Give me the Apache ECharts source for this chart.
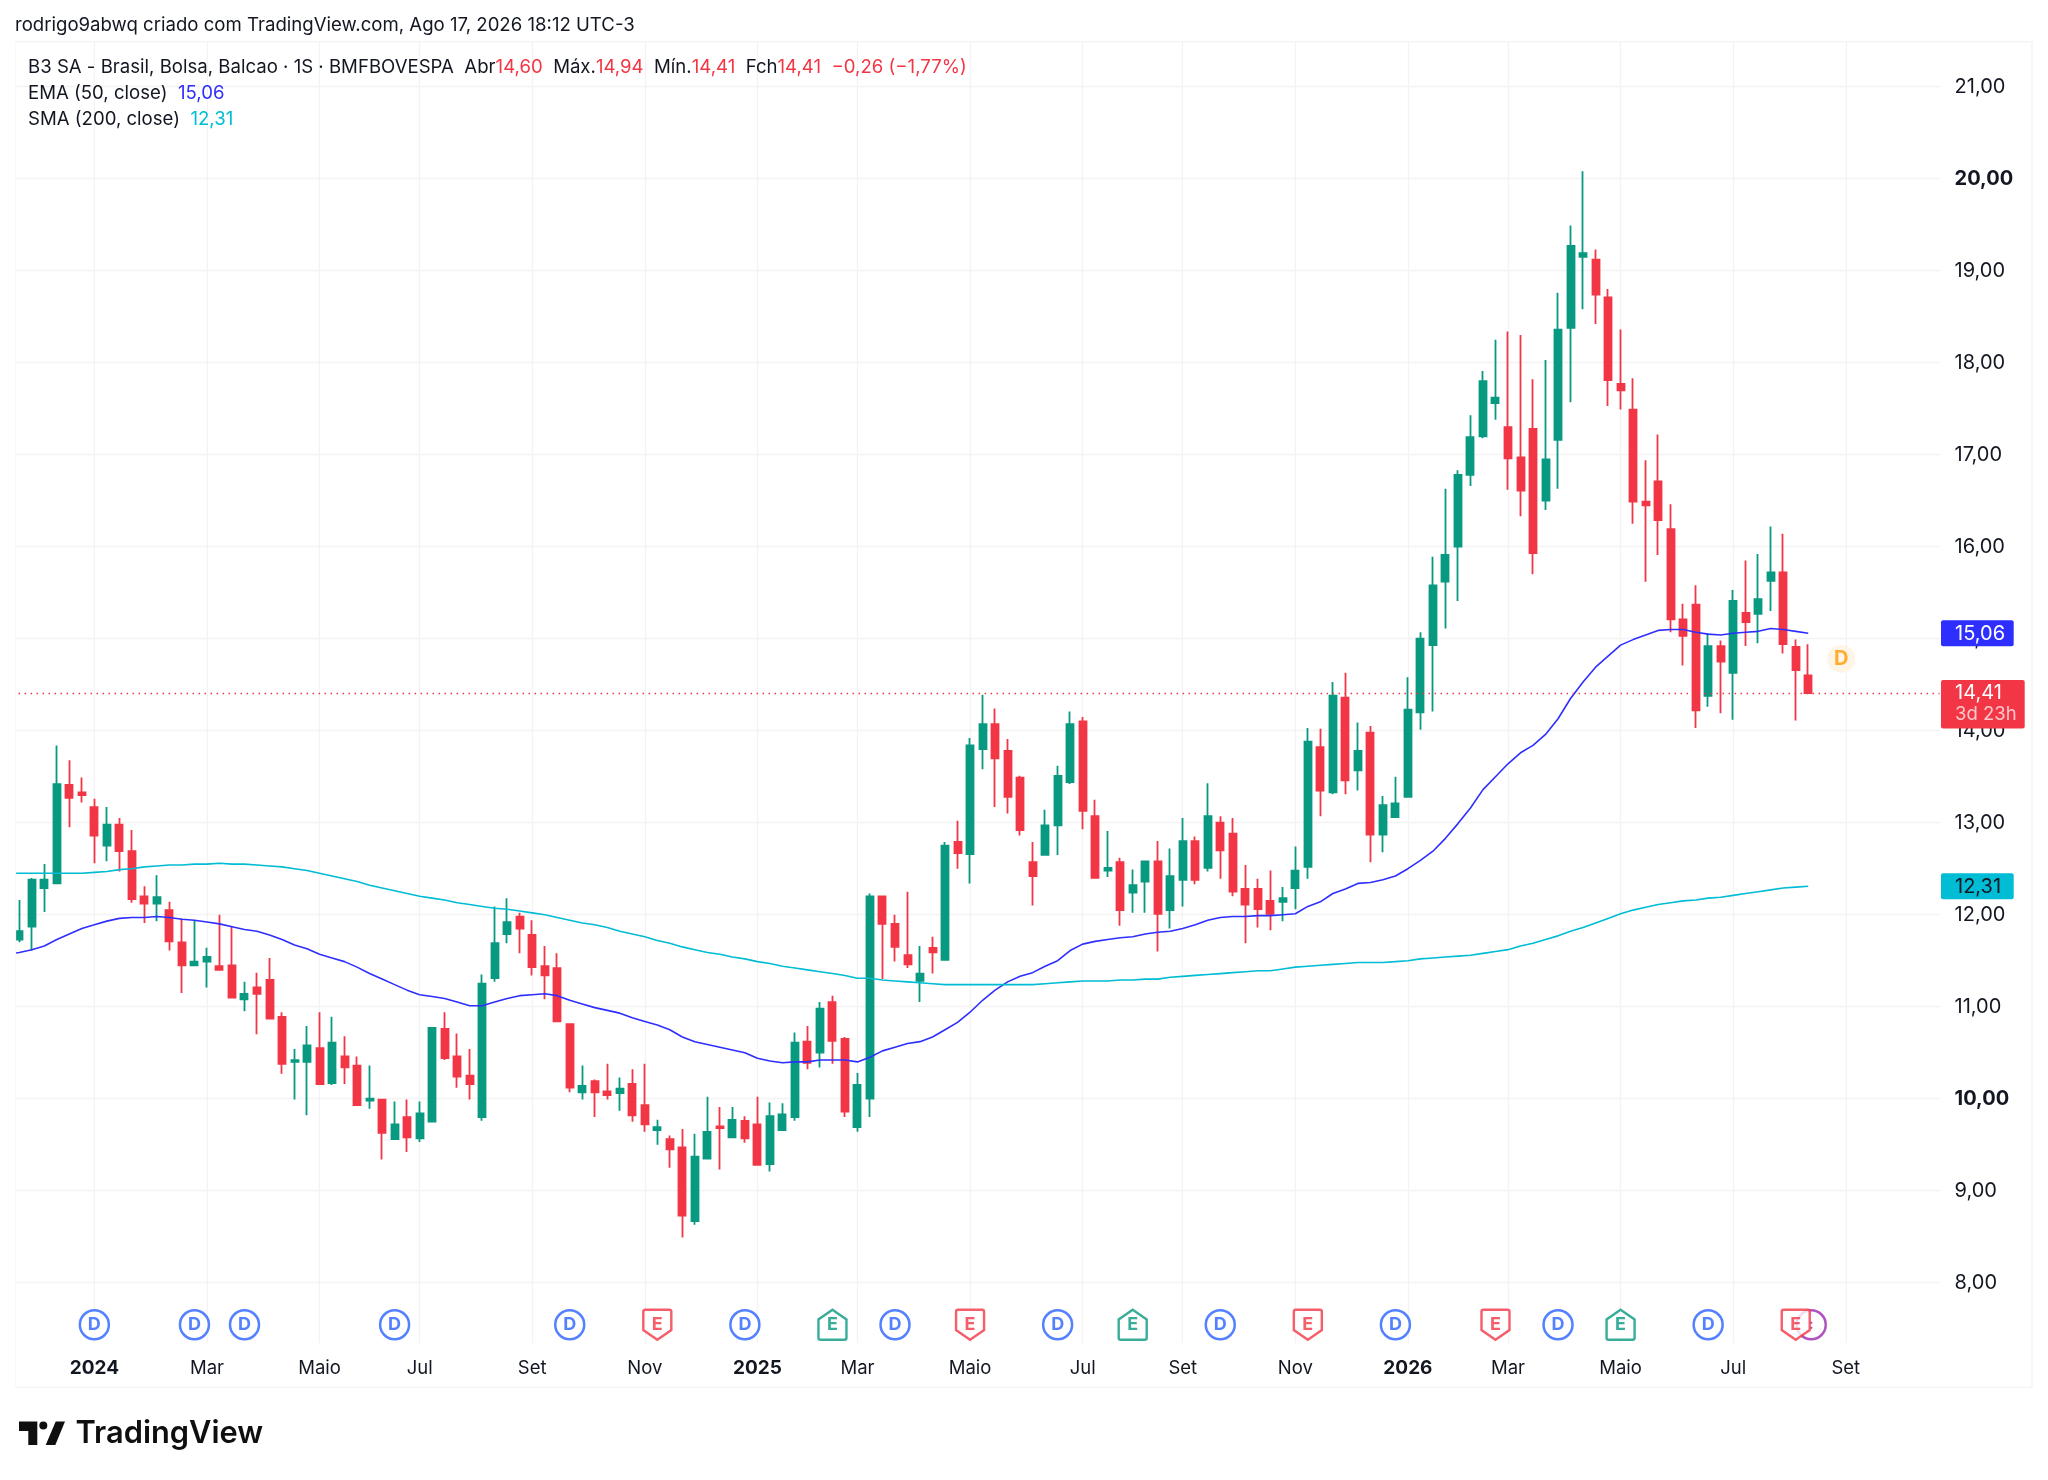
<!DOCTYPE html>
<html><head><meta charset="utf-8">
<style>html,body{margin:0;padding:0;background:#fff}#c{width:2048px;height:1480px}</style>
<script src="https://cdn.jsdelivr.net/npm/echarts@6/dist/echarts.min.js"></script>
</head><body><div id="c"></div>
<script>
const opens=[11.73,11.87,12.29,12.34,13.41,13.33,13.17,12.75,12.98,12.69,12.20,12.12,12.05,11.70,11.45,11.49,11.44,11.45,11.08,11.21,11.29,10.89,10.40,10.40,10.55,10.17,10.46,10.36,9.98,9.99,9.56,9.80,9.57,9.75,10.76,10.46,10.25,9.80,11.31,11.79,11.98,11.78,11.44,11.42,10.81,10.07,10.19,10.08,10.06,10.16,9.93,9.66,9.56,9.47,8.67,9.35,9.70,9.58,9.76,9.72,9.29,9.66,9.80,10.62,10.50,11.05,10.65,9.69,10.00,12.20,11.90,11.56,11.28,11.64,11.51,12.79,12.66,13.80,14.07,13.78,13.49,12.57,12.65,12.97,13.44,14.10,13.07,12.48,12.57,12.24,12.36,12.58,12.05,12.38,12.80,12.51,13.00,12.88,12.28,12.28,12.15,12.14,12.29,12.52,13.82,13.33,14.36,13.57,13.98,12.87,13.06,13.28,14.20,14.93,15.62,16.00,16.78,17.20,17.56,17.30,16.97,17.28,16.50,17.16,18.38,19.15,19.12,18.71,17.77,17.49,16.49,16.71,16.19,15.21,15.37,14.38,14.92,14.63,15.28,15.27,15.63,15.72,14.91,14.60];
const highs=[12.16,12.40,12.55,13.84,13.68,13.49,13.26,13.17,13.05,12.92,12.31,12.43,12.14,11.96,11.94,11.64,12.00,11.87,11.27,11.37,11.53,10.94,10.54,10.79,10.94,10.89,10.68,10.46,10.36,10.00,9.97,9.99,9.97,10.78,10.94,10.71,10.54,11.35,12.09,12.18,12.02,11.94,11.66,11.58,10.81,10.36,10.21,10.38,10.23,10.32,10.38,9.77,9.60,9.67,9.62,10.02,9.91,9.91,9.81,10.02,9.96,9.95,10.72,10.79,11.05,11.12,10.67,10.28,12.23,12.20,12.00,12.25,11.66,11.76,12.79,13.02,13.92,14.39,14.24,13.91,13.51,12.79,13.14,13.62,14.21,14.15,13.25,12.91,12.62,12.49,12.58,12.80,12.72,13.05,12.85,13.43,13.07,13.05,12.54,12.39,12.48,12.30,12.74,14.03,14.02,14.53,14.63,14.09,14.05,13.29,13.50,14.58,15.07,15.89,16.63,16.83,17.43,17.91,18.25,18.34,18.30,17.82,18.03,18.76,19.49,20.08,19.23,18.80,18.36,17.83,16.94,17.22,16.46,15.38,15.58,15.06,14.98,15.53,15.85,15.92,16.22,16.14,14.99,14.94];
const lows=[11.70,11.61,12.03,12.33,12.95,13.22,12.56,12.58,12.47,12.13,11.91,11.93,11.61,11.15,11.44,11.21,11.39,11.10,10.95,10.70,10.87,10.27,9.99,9.82,10.15,10.15,10.16,9.93,9.89,9.34,9.56,9.42,9.53,9.75,10.42,10.12,9.99,9.76,11.27,11.69,11.58,11.34,11.08,10.83,10.07,9.99,9.80,9.99,9.87,9.75,9.64,9.50,9.25,8.49,8.63,9.35,9.23,9.57,9.52,9.28,9.21,9.66,9.76,10.32,10.34,10.38,9.80,9.64,9.80,11.30,11.49,11.42,11.05,11.36,11.51,12.50,12.34,13.58,13.17,13.10,12.86,12.10,12.65,12.65,13.42,12.93,12.39,12.41,11.88,12.02,12.02,11.60,11.85,12.09,12.33,12.47,12.39,12.20,11.69,11.86,11.83,11.93,12.06,12.39,13.07,13.31,13.31,13.35,12.57,12.68,13.06,13.28,14.01,14.21,15.11,15.41,16.66,17.18,17.38,16.62,16.33,15.70,16.40,16.63,17.57,18.58,18.42,17.53,17.49,16.25,15.62,15.91,15.07,14.71,14.03,14.26,14.19,14.12,14.92,14.95,15.30,14.84,14.11,14.41];
const closes=[11.82,12.38,12.38,13.42,13.27,13.30,12.86,12.98,12.69,12.17,12.12,12.19,11.71,11.45,11.49,11.54,11.40,11.10,11.14,11.14,10.87,10.38,10.42,10.58,10.16,10.61,10.34,9.93,10.00,9.63,9.72,9.58,9.84,10.77,10.44,10.24,10.16,11.25,11.69,11.92,11.85,11.43,11.34,10.84,10.12,10.14,10.07,10.04,10.11,9.82,9.72,9.69,9.45,8.73,9.37,9.64,9.68,9.77,9.57,9.28,9.81,9.83,10.61,10.39,10.98,10.63,9.86,10.15,12.20,11.90,11.65,11.46,11.36,11.59,12.75,12.67,13.84,14.07,13.70,13.28,12.92,12.42,12.97,13.51,14.07,13.13,12.40,12.51,12.05,12.32,12.58,12.01,12.42,12.80,12.38,13.07,12.70,12.25,12.11,12.06,12.01,12.18,12.48,13.88,13.35,14.38,13.46,13.78,12.87,13.19,13.21,14.23,15.00,15.58,15.91,16.78,17.19,17.80,17.62,16.96,16.61,15.93,16.95,18.36,19.27,19.19,18.74,17.81,17.70,16.49,16.45,16.29,15.21,15.03,14.22,14.92,14.75,15.41,15.18,15.43,15.72,14.94,14.66,14.41];
const ema50=[11.57,11.59,11.62,11.66,11.73,11.79,11.85,11.89,11.93,11.96,11.97,11.97,11.98,11.97,11.95,11.94,11.92,11.90,11.87,11.84,11.82,11.78,11.73,11.67,11.63,11.57,11.53,11.49,11.43,11.36,11.30,11.24,11.18,11.13,11.11,11.09,11.05,11.01,11.01,11.05,11.09,11.12,11.13,11.14,11.12,11.07,11.03,10.99,10.96,10.93,10.88,10.84,10.80,10.75,10.67,10.62,10.59,10.56,10.53,10.50,10.44,10.41,10.39,10.40,10.40,10.42,10.42,10.42,10.40,10.45,10.52,10.56,10.60,10.62,10.67,10.75,10.83,10.94,11.07,11.18,11.27,11.33,11.37,11.44,11.50,11.61,11.68,11.71,11.73,11.75,11.76,11.79,11.81,11.82,11.85,11.89,11.94,11.97,11.98,11.98,11.99,11.99,12.00,12.01,12.09,12.14,12.23,12.28,12.34,12.35,12.38,12.42,12.50,12.59,12.69,12.83,12.99,13.16,13.36,13.50,13.64,13.76,13.84,13.96,14.13,14.35,14.53,14.69,14.81,14.93,14.99,15.04,15.09,15.10,15.10,15.07,15.05,15.04,15.06,15.07,15.08,15.11,15.10,15.08,15.06];
const sma200=[12.45,12.45,12.45,12.45,12.45,12.45,12.45,12.46,12.47,12.49,12.50,12.52,12.53,12.54,12.54,12.55,12.55,12.56,12.55,12.55,12.54,12.53,12.52,12.50,12.48,12.45,12.42,12.39,12.36,12.32,12.29,12.26,12.23,12.20,12.18,12.16,12.13,12.11,12.09,12.07,12.06,12.04,12.02,12.00,11.97,11.94,11.91,11.89,11.86,11.82,11.79,11.76,11.72,11.69,11.65,11.62,11.59,11.57,11.54,11.52,11.49,11.47,11.44,11.42,11.40,11.38,11.36,11.34,11.31,11.31,11.29,11.28,11.27,11.26,11.25,11.24,11.24,11.24,11.24,11.24,11.24,11.24,11.24,11.25,11.26,11.27,11.28,11.28,11.28,11.29,11.29,11.30,11.30,11.32,11.33,11.34,11.35,11.36,11.37,11.38,11.39,11.39,11.41,11.43,11.44,11.45,11.46,11.47,11.48,11.48,11.48,11.49,11.50,11.52,11.53,11.54,11.55,11.56,11.58,11.60,11.62,11.66,11.69,11.73,11.77,11.82,11.86,11.91,11.96,12.01,12.05,12.08,12.11,12.13,12.15,12.16,12.18,12.19,12.21,12.23,12.25,12.27,12.29,12.30,12.31];
const priceTicks=[8,9,10,11,12,13,14,15,16,17,18,19,20,21];
const boldPrices=[10,20];
const monthIdx=[7,16,25,33,42,51,60,68,77,86,94,103,112,120,129,138,147];
const monthLabels=['2024','Mar','Maio','Jul','Set','Nov','2025','Mar','Maio','Jul','Set','Nov','2026','Mar','Maio','Jul','Set'];
const dividendIdx=[7,15,19,31,45,59,71,84,97,111,124,136];
const earnRedIdx=[52,77,104,119,143];
const earnGreenIdx=[66,90,129];
const splitIdx=[144];
const nextDivIdx=[147];
const lastEma=15.06, lastSma=12.31, lastClose=14.41, nextDivPrice=14.78, eventRow=7.543;

const slots=155;
const categories=Array.from({length:slots},(_,i)=>String(i));
const GREEN='#089981',RED='#F23645',BLUE='#2E2EFF',CYAN='#00BCD4',INK='#131722',GRID='#F3F3F3',FONT='Inter';
const fmt=v=>v.toFixed(2).replace('.',',');
const candles=[['-','-','-','-']].concat(opens.map((o,i)=>[o,closes[i],lows[i],highs[i]]));
const evt=(idx)=>idx.map(i=>[i,eventRow]);
const evLabel=(t,c,sz)=>({show:true,position:'inside',formatter:t,color:c,fontFamily:FONT,fontWeight:700,fontSize:sz||18});

const chart=echarts.init(document.getElementById('c'),null,{renderer:'canvas',width:2048,height:1480});
const gridLeft=0.54,bandW=12.51,gridTop=41.7,gridBottomY=1343;
chart.setOption({
  animation:false,backgroundColor:'#fff',
  textStyle:{fontFamily:FONT},
  grid:{left:gridLeft,top:gridTop,width:bandW*slots,height:gridBottomY-gridTop,containLabel:false},
  xAxis:{type:'category',data:categories,boundaryGap:true,
    axisLine:{show:false},
    axisTick:{show:false,customValues:monthIdx,alignWithLabel:true},
    splitLine:{show:true,alignWithLabel:true,lineStyle:{color:GRID,width:1.3}},
    axisLabel:{customValues:monthIdx,margin:15.5,color:INK,fontSize:18.5,fontFamily:FONT,
      formatter:v=>{const k=monthIdx.indexOf(Number(v));const t=monthLabels[k]||'';return /^\d/.test(t)?'{y|'+t+'}':t;},
      rich:{y:{fontWeight:700,fontSize:19,color:INK,fontFamily:FONT}}}},
  yAxis:{type:'value',position:'right',min:7.3446,max:21.489,scale:true,
    axisLine:{show:false},
    axisTick:{show:false,customValues:priceTicks},
    splitLine:{show:true,lineStyle:{color:GRID,width:1.3}},
    axisLabel:{customValues:priceTicks,align:'left',margin:15,color:INK,fontSize:20,fontFamily:FONT,padding:[1,0,0,0],
      formatter:v=>boldPrices.includes(v)?'{b|'+fmt(v)+'}':fmt(v),
      rich:{b:{fontWeight:700,fontSize:20,color:INK,fontFamily:FONT}}}},
  series:[
    {name:'B3',type:'candlestick',data:candles,barWidth:7.5,z:3,clip:false,
      itemStyle:{color:GREEN,color0:RED,borderColor:GREEN,borderColor0:RED,borderWidth:1.8},
      markLine:{silent:true,symbol:'none',animation:false,label:{show:false},
        lineStyle:{color:RED,type:[1.5,4.5],width:1.3},data:[{yAxis:lastClose}]}},
    {name:'EMA',type:'line',data:ema50,showSymbol:false,symbol:'none',z:4,lineStyle:{color:BLUE,width:1.6},silent:true},
    {name:'SMA',type:'line',data:sma200,showSymbol:false,symbol:'none',z:4,lineStyle:{color:CYAN,width:1.6},silent:true},
    {name:'split',type:'scatter',data:evt(splitIdx),symbol:'circle',symbolSize:29,symbolOffset:[3,0],z:5,clip:false,
      itemStyle:{color:'#fff',borderColor:'#9C27B0',borderWidth:2.5},label:evLabel(':','#9C27B0',14)},
    {name:'D',type:'scatter',data:evt(dividendIdx),symbol:'circle',symbolSize:29,z:6,clip:false,
      itemStyle:{color:'#fff',borderColor:'#2962FF',borderWidth:2.5},label:evLabel('D','#2962FF')},
    {name:'Ered',type:'scatter',data:evt(earnRedIdx),symbol:'path://M2 0H26Q28 0 28 2V21L14 31L0 21V2Q0 0 2 0Z',symbolSize:[28,30],z:7,clip:false,
      itemStyle:{color:'#fff',borderColor:RED,borderWidth:2.5},label:evLabel('E',RED)},
    {name:'Egreen',type:'scatter',data:evt(earnGreenIdx),symbol:'path://M14 0L28 10V29Q28 31 26 31H2Q0 31 0 29V10Z',symbolSize:[28,30],z:7,clip:false,
      itemStyle:{color:'#fff',borderColor:GREEN,borderWidth:2.5},label:evLabel('E',GREEN)},
    {name:'nextD',type:'scatter',data:nextDivIdx.map(i=>[i,nextDivPrice]),symbol:'circle',symbolSize:28,symbolOffset:[-4.5,0],z:5,clip:false,
      itemStyle:{color:'#FFF3E0'},label:evLabel('D','#FF9800',20)}
  ]
});
const py=v=>chart.convertToPixel({yAxisIndex:0},v);
const badge=(val,bg,fg,w)=>{const c=py(val);return [
  {type:'rect',z:50,shape:{x:1941,y:c-13,width:w,height:26,r:2},style:{fill:bg}},
  {type:'text',z:51,x:1955,y:c+0.5,style:{text:fmt(val),fill:fg,font:'20px Inter',verticalAlign:'middle'}}];};
const yClose=py(lastClose);
const sp=(t,c)=>'{'+c+'|'+t+'}';
const LF='18.6px Inter';
const rich={k:{fill:INK,font:LF},r:{fill:RED,font:LF},b:{fill:BLUE,font:LF},c:{fill:CYAN,font:LF}};
chart.setOption({graphic:[
  {type:'rect',z:40,silent:true,shape:{x:0,y:30,width:15.5,height:1370},style:{fill:'#fff'}},
  {type:'rect',z:39,silent:true,shape:{x:15.5,y:41.7,width:2016.5,height:1345.6},style:{fill:'none',stroke:'#F3F3F3',lineWidth:1.3}},
  ...badge(lastEma,BLUE,'#fff',72.7),
  ...badge(lastSma,CYAN,INK,72.7),
  {type:'rect',z:50,shape:{x:1941,y:yClose-13,width:83.7,height:48.5,r:2},style:{fill:RED}},
  {type:'text',z:51,x:1955,y:yClose,style:{text:fmt(lastClose),fill:'#fff',font:'20px Inter',verticalAlign:'middle'}},
  {type:'text',z:51,x:1955,y:yClose+21,style:{text:'3d 23h',fill:'rgba(255,255,255,0.72)',font:'18.5px Inter',verticalAlign:'middle'}},
  {type:'text',z:60,x:15,y:25.5,style:{text:'rodrigo9abwq criado com TradingView.com, Ago 17, 2026 18:12 UTC-3',fill:INK,font:LF,verticalAlign:'middle'}},
  {type:'text',z:60,x:28,y:67,style:{rich,verticalAlign:'middle',text:sp('B3 SA - Brasil, Bolsa, Balcao · 1S · BMFBOVESPA  Abr','k')+sp('14,60','r')+sp('  Máx.','k')+sp('14,94','r')+sp('  Mín.','k')+sp('14,41','r')+sp('  Fch','k')+sp('14,41','r')+sp('  −0,26 (−1,77%)','r')}},
  {type:'text',z:60,x:28,y:93.5,style:{rich,verticalAlign:'middle',text:sp('EMA (50, close)  ','k')+sp('15,06','b')}},
  {type:'text',z:60,x:28,y:119.5,style:{rich,verticalAlign:'middle',text:sp('SMA (200, close)  ','k')+sp('12,31','c')}},
  {type:'polygon',z:60,shape:{points:[[19,1421.5],[37.3,1421.5],[37.3,1445],[28.3,1445],[28.3,1431],[19,1431]]},style:{fill:'#0F0F0F'}},
  {type:'circle',z:60,shape:{cx:43.3,cy:1425.5,r:4},style:{fill:'#0F0F0F'}},
  {type:'polygon',z:60,shape:{points:[[55.7,1421.5],[65,1421.5],[55.3,1445],[45.7,1445]]},style:{fill:'#0F0F0F'}},
  {type:'text',z:60,x:75.5,y:1434,style:{text:'TradingView',fill:'#0F0F0F',font:'600 30.8px Inter',verticalAlign:'middle'}}
]});
</script></body></html>
